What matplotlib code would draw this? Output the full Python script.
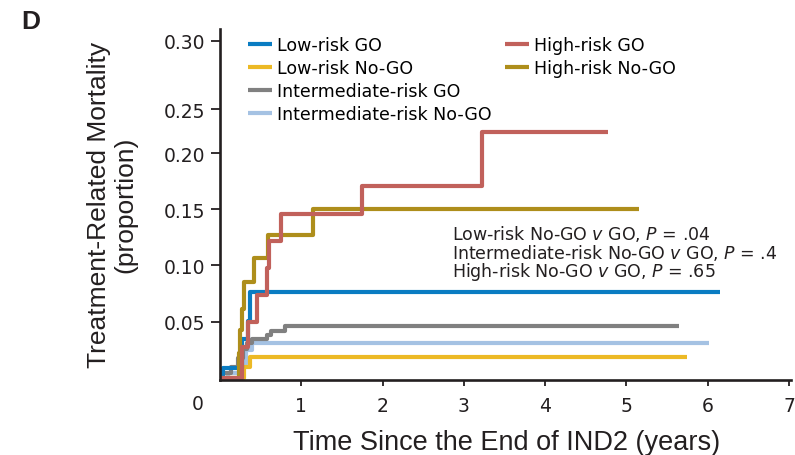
import matplotlib.pyplot as plt

# step curves: (time in years, cumulative proportion)
low_go_t = [0, 0.04, 0.27, 0.35, 0.37, 6.15]
low_go_y = [0, 0.009, 0.035, 0.051, 0.076, 0.076]

low_nogo_t = [0, 0.30, 0.37, 5.74]
low_nogo_y = [0, 0.0098, 0.0187, 0.0187]

int_go_t = [0, 0.03, 0.13, 0.22, 0.28, 0.33, 0.40, 0.58, 0.63, 0.80, 5.64]
int_go_y = [0, 0.004, 0.010, 0.018, 0.026, 0.031, 0.035, 0.038, 0.042, 0.046, 0.046]

int_nogo_t = [0, 0.10, 0.25, 0.32, 0.40, 6.02]
int_nogo_y = [0, 0.004, 0.012, 0.025, 0.031, 0.031]

high_go_t = [0, 0.27, 0.35, 0.455, 0.575, 0.607, 0.751, 1.752, 3.227, 4.77]
high_go_y = [0, 0.0276, 0.0498, 0.0739, 0.0976, 0.122, 0.146, 0.171, 0.219, 0.219]

high_nogo_t = [0, 0.24, 0.245, 0.265, 0.30, 0.422, 0.595, 1.149, 5.15]
high_nogo_y = [0, 0.022, 0.043, 0.061, 0.085, 0.107, 0.127, 0.150, 0.150]

labels = ["Low-risk GO", "Low-risk No-GO", "Intermediate-risk GO",
          "Intermediate-risk No-GO", "High-risk GO", "High-risk No-GO"]
colors = ["#0a7cc2", "#ecb925", "#808080", "#a5c2e3", "#c1615b", "#ae8e1b"]

# the 0.25 label sits lower than a linear scale would put it in the figure
y_ticks = [0.05, 0.10, 0.15, 0.20, 0.239, 0.30]
y_tick_labels = ["0.05", "0.10", "0.15", "0.20", "0.25", "0.30"]
x_ticks = [1, 2, 3, 4, 5, 6, 7]

stats = ["Low-risk No-GO $\\it{v}$ GO, $\\it{P}$ = .04",
         "Intermediate-risk No-GO $\\it{v}$ GO, $\\it{P}$ = .4",
         "High-risk No-GO $\\it{v}$ GO, $\\it{P}$ = .65"]

ink = '#231f20'
plt.rcParams['font.family'] = ['DejaVu Sans']

fig = plt.figure(figsize=(7.95, 4.56), dpi=100)
ax = fig.add_axes([0.2767, 1 - 381 / 456, 0.7179, 351 / 456])

series = [(low_go_t, low_go_y), (low_nogo_t, low_nogo_y), (int_go_t, int_go_y),
          (int_nogo_t, int_nogo_y), (high_go_t, high_go_y), (high_nogo_t, high_nogo_y)]
# draw order so the high-risk curves sit on top as in the figure
order = [3, 2, 1, 0, 5, 4]
handles = {}
for i in order:
    t, y = series[i]
    h, = ax.step(t, y, where='post', color=colors[i], lw=3.0, label=labels[i],
                 solid_capstyle='butt', clip_on=False)
    handles[i] = h

leg_kw = dict(frameon=False, loc='upper left', fontsize=12.5, handlelength=1.4,
              handletextpad=0.3, labelspacing=0.29, borderaxespad=0, borderpad=0)
leg1 = ax.legend([handles[i] for i in range(4)], labels[:4],
                 bbox_to_anchor=(0.049, 0.981), **leg_kw)
ax.add_artist(leg1)
ax.legend([handles[i] for i in range(4, 6)], labels[4:],
          bbox_to_anchor=(0.499, 0.981), **leg_kw)

ax.set_xlim(0, 7.02)
ax.set_ylim(-0.0019, 0.3104)
ax.set_xticks(x_ticks)
ax.set_yticks(y_ticks)
ax.set_yticklabels(y_tick_labels)
ax.tick_params(axis='both', labelsize=13.5, width=1.3, direction='out',
               color=ink, labelcolor=ink)
ax.tick_params(axis='x', length=4.5, pad=7)
ax.tick_params(axis='y', length=6.5, pad=4)
ax.text(198 / 795, 1 - 404.5 / 456, "0", transform=fig.transFigure,
        ha='center', va='center', fontsize=13.5, color=ink)

for s in ['top', 'right']:
    ax.spines[s].set_visible(False)
for s in ['left', 'bottom']:
    ax.spines[s].set_linewidth(1.9)
    ax.spines[s].set_color(ink)

fig.text(507 / 795, 6 / 456, "Time Since the End of IND2 (years)",
         fontsize=19.5, family='Liberation Sans', ha='center', va='baseline',
         color=ink)
fig.text(112 / 795, 1 - 205 / 456, "Treatment-Related Mortality\n(proportion)",
         fontsize=19, family='Liberation Sans', rotation=90, ha='center',
         va='center', multialignment='center', linespacing=1.15, color=ink)

for k, s in enumerate(stats):
    ax.text(2.857, 0.1285 - k * 0.0168, s, fontsize=12.5, ha='left',
            va='center', color=ink)

fig.text(31 / 795, 1 - 22 / 456, "D", fontsize=19, fontweight='bold',
         family='Liberation Sans', color=ink, ha='center', va='center')

fig.savefig("out.png", dpi=100)
